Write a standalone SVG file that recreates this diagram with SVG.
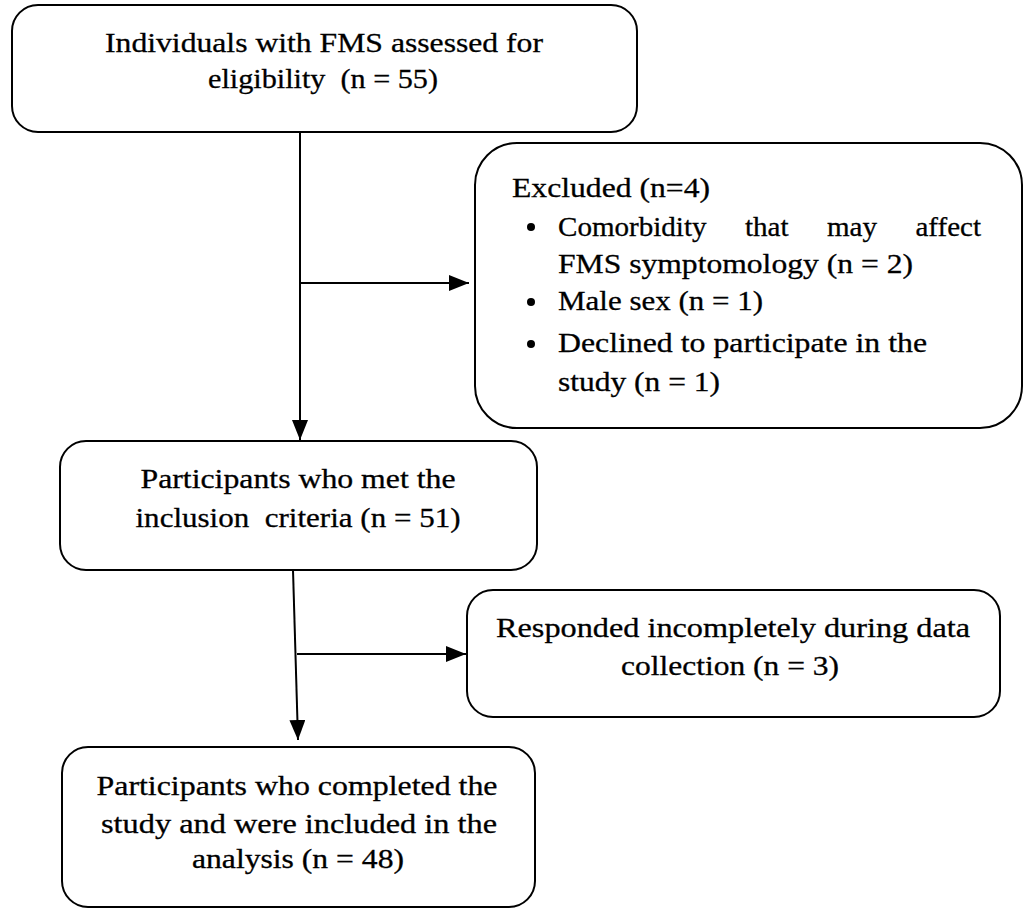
<svg xmlns="http://www.w3.org/2000/svg" width="1035" height="913" viewBox="0 0 1035 913">
<style>
.box{fill:#fff;stroke:#000;stroke-width:2}
.t{font-size:28px;fill:#000;stroke:#000;stroke-width:0.3}
.c{text-anchor:middle}
.ln{stroke:#000;stroke-width:2;fill:none}
</style>
<defs>
<marker id="ah" markerWidth="20" markerHeight="16" refX="20" refY="8" orient="auto" markerUnits="userSpaceOnUse">
<path d="M0,0 L20,8 L0,16 Z" fill="#000"/>
</marker>
</defs>
<rect width="1035" height="913" fill="#fff"/>
<g id="connectors">
<line class="ln" x1="300" y1="132" x2="300" y2="440" marker-end="url(#ah)"/>
<line class="ln" x1="300" y1="283" x2="469" y2="283" marker-end="url(#ah)"/>
<line class="ln" x1="293" y1="570" x2="298" y2="740" marker-end="url(#ah)"/>
<line class="ln" x1="297" y1="654" x2="466" y2="654" marker-end="url(#ah)"/>
</g>
<g font-family="Liberation Serif, Times New Roman, serif">
<g id="n1">
<rect class="box" x="12" y="5" width="625" height="127" rx="26"/>
<text class="t c" x="324" y="52" textLength="438" lengthAdjust="spacingAndGlyphs">Individuals with FMS assessed for</text>
<text class="t c" x="323" y="88" textLength="230" lengthAdjust="spacingAndGlyphs" xml:space="preserve">eligibility  (n = 55)</text>
</g>
<g id="n2">
<rect class="box" x="475" y="143" width="547" height="285" rx="42"/>
<text class="t" x="512" y="197" textLength="198" lengthAdjust="spacingAndGlyphs">Excluded (n=4)</text>
<circle cx="531" cy="227" r="4"/>
<text class="t" x="558" y="236" textLength="423" lengthAdjust="spacingAndGlyphs" word-spacing="30">Comorbidity that may affect</text>
<text class="t" x="558" y="273" textLength="355" lengthAdjust="spacingAndGlyphs">FMS symptomology (n = 2)</text>
<circle cx="531" cy="302" r="4"/>
<text class="t" x="558" y="310" textLength="205" lengthAdjust="spacingAndGlyphs">Male sex (n = 1)</text>
<circle cx="531" cy="344" r="4"/>
<text class="t" x="558" y="352" textLength="369" lengthAdjust="spacingAndGlyphs">Declined to participate in the</text>
<text class="t" x="558" y="391" textLength="162" lengthAdjust="spacingAndGlyphs">study (n = 1)</text>
</g>
<g id="n3">
<rect class="box" x="60" y="441" width="477" height="129" rx="26"/>
<text class="t c" x="298" y="488" textLength="315" lengthAdjust="spacingAndGlyphs">Participants who met the</text>
<text class="t c" x="298" y="527" textLength="325" lengthAdjust="spacingAndGlyphs" xml:space="preserve">inclusion  criteria (n = 51)</text>
</g>
<g id="n4">
<rect class="box" x="467" y="590" width="533" height="127" rx="26"/>
<text class="t c" x="733" y="637" textLength="474" lengthAdjust="spacingAndGlyphs">Responded incompletely during data</text>
<text class="t c" x="730" y="675" textLength="218" lengthAdjust="spacingAndGlyphs">collection (n = 3)</text>
</g>
<g id="n5">
<rect class="box" x="62" y="747" width="473" height="160" rx="26"/>
<text class="t c" x="297" y="795" textLength="401" lengthAdjust="spacingAndGlyphs">Participants who completed the</text>
<text class="t c" x="299" y="833" textLength="396" lengthAdjust="spacingAndGlyphs">study and were included in the</text>
<text class="t c" x="298" y="868" textLength="212" lengthAdjust="spacingAndGlyphs">analysis (n = 48)</text>
</g>
</g>
</svg>
